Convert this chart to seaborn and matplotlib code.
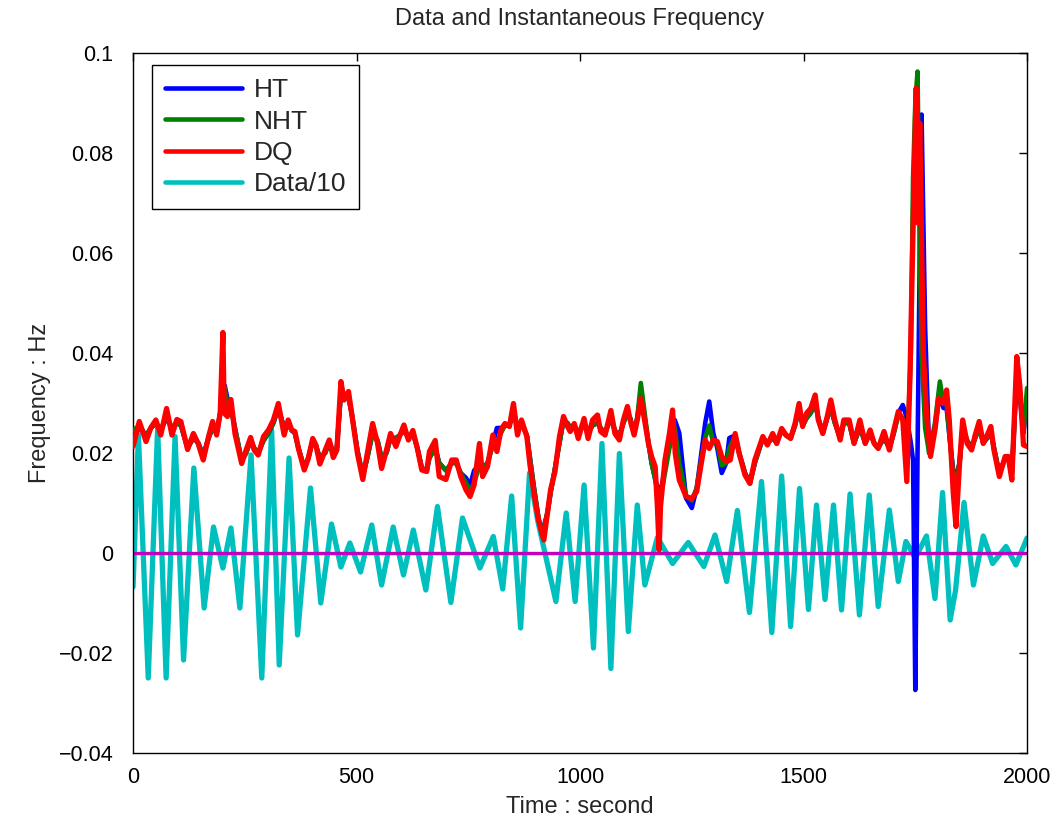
import numpy as np
import pandas as pd
import matplotlib
matplotlib.use("Agg")
import matplotlib.pyplot as plt
import seaborn as sns

# ---------------- data ----------------
# common time grid for HT and NHT (seconds)
FREQ_T = [0, 14, 29, 40, 51, 62, 75, 87, 98, 107, 122, 135, 146, 157, 169, 178, 187, 195, 205, 211,
          219, 228, 243, 253, 263, 271, 280, 292, 303, 314, 325, 338, 347, 355, 362, 370, 383, 392, 402, 409,
          418, 430, 439, 448, 456, 465, 472, 482, 489, 502, 514, 524, 536, 547, 556, 567, 576, 588, 596, 606,
          616, 626, 636, 646, 657, 663, 676, 685, 700, 713, 723, 733, 745, 754, 763, 775, 782, 793, 805, 814,
          823, 832, 842, 851, 860, 869, 881, 888, 897, 907, 915, 927, 934, 944, 954, 963, 972, 978, 987, 996,
          1009, 1018, 1028, 1039, 1046, 1056, 1069, 1078, 1088, 1097, 1106, 1112, 1121, 1128, 1136, 1143, 1153, 1160, 1170, 1180,
          1190, 1200, 1212, 1222, 1237, 1250, 1261, 1270, 1280, 1289, 1298, 1307, 1317, 1327, 1334, 1347, 1356, 1369, 1380, 1391,
          1409, 1419, 1431, 1440, 1451, 1461, 1471, 1481, 1490, 1498, 1507, 1516, 1526, 1533, 1543, 1553, 1561, 1570, 1582, 1590,
          1602, 1613, 1626, 1638, 1649, 1658, 1667, 1680, 1692, 1702, 1712, 1722, 1731, 1740, 1745, 1750, 1755, 1760, 1764, 1772,
          1781, 1794, 1805, 1813, 1820, 1828, 1838, 1849, 1856, 1866, 1876, 1884, 1893, 1902, 1911, 1919, 1926, 1938, 1951, 1958,
          1966, 1977, 1984, 1992, 2000]

NHT_V = [0.0245, 0.0255, 0.0235, 0.025, 0.026, 0.0245, 0.0275, 0.025, 0.026, 0.0255, 0.021, 0.023, 0.022, 0.0195, 0.023, 0.025, 0.024, 0.028, 0.033, 0.030,
         0.029, 0.025, 0.0185, 0.020, 0.0225, 0.021, 0.020, 0.0225, 0.024, 0.026, 0.029, 0.025, 0.026, 0.0245, 0.024, 0.021, 0.017, 0.019, 0.0225, 0.0215,
         0.019, 0.020, 0.022, 0.020, 0.021, 0.032, 0.0315, 0.031, 0.028, 0.0205, 0.0155, 0.019, 0.024, 0.0225, 0.019, 0.020, 0.023, 0.023, 0.0235, 0.0245,
         0.023, 0.024, 0.021, 0.017, 0.0165, 0.019, 0.021, 0.018, 0.0165, 0.018, 0.018, 0.016, 0.014, 0.0125, 0.014, 0.0175, 0.017, 0.018, 0.0215, 0.022,
         0.024, 0.0255, 0.0255, 0.0285, 0.025, 0.026, 0.0235, 0.019, 0.013, 0.007, 0.0035, 0.008, 0.012, 0.017, 0.022, 0.0265, 0.026, 0.025, 0.0255, 0.024,
         0.026, 0.024, 0.0255, 0.026, 0.025, 0.024, 0.027, 0.0245, 0.0235, 0.026, 0.028, 0.027, 0.024, 0.027, 0.034, 0.029, 0.022, 0.018, 0.014, 0.011,
         0.016, 0.021, 0.025, 0.018, 0.0115, 0.0105, 0.013, 0.018, 0.023, 0.0255, 0.022, 0.022, 0.0175, 0.018, 0.021, 0.0235, 0.020, 0.016, 0.014, 0.018,
         0.023, 0.022, 0.023, 0.022, 0.0245, 0.0235, 0.023, 0.0255, 0.029, 0.0255, 0.027, 0.028, 0.030, 0.027, 0.024, 0.027, 0.029, 0.026, 0.023, 0.026,
         0.026, 0.022, 0.025, 0.022, 0.024, 0.022, 0.021, 0.023, 0.021, 0.024, 0.0275, 0.027, 0.018, 0.040, 0.075, 0.090, 0.0963, 0.060, 0.040, 0.025,
         0.020, 0.026, 0.0343, 0.030, 0.030, 0.022, 0.013, 0.018, 0.025, 0.0225, 0.021, 0.023, 0.025, 0.022, 0.023, 0.024, 0.021, 0.016, 0.019, 0.019,
         0.016, 0.036, 0.032, 0.024, 0.033]

HT_V = [0.0235, 0.025, 0.0235, 0.025, 0.026, 0.0245, 0.027, 0.025, 0.026, 0.0255, 0.021, 0.023, 0.022, 0.0195, 0.023, 0.025, 0.024, 0.028, 0.0335, 0.031,
        0.029, 0.025, 0.0185, 0.020, 0.0225, 0.021, 0.020, 0.0225, 0.024, 0.026, 0.029, 0.025, 0.026, 0.0245, 0.024, 0.021, 0.017, 0.019, 0.0225, 0.0215,
        0.019, 0.020, 0.0225, 0.020, 0.021, 0.032, 0.0315, 0.031, 0.028, 0.0205, 0.0155, 0.019, 0.024, 0.0225, 0.019, 0.020, 0.023, 0.023, 0.0235, 0.0245,
        0.023, 0.024, 0.021, 0.017, 0.0165, 0.019, 0.021, 0.018, 0.0165, 0.018, 0.018, 0.016, 0.015, 0.0135, 0.0165, 0.0175, 0.017, 0.018, 0.022, 0.025,
        0.025, 0.0255, 0.0255, 0.0285, 0.025, 0.026, 0.0235, 0.019, 0.013, 0.007, 0.004, 0.008, 0.012, 0.017, 0.022, 0.0265, 0.026, 0.025, 0.0255, 0.024,
        0.026, 0.024, 0.0255, 0.026, 0.025, 0.024, 0.027, 0.0245, 0.0235, 0.026, 0.028, 0.027, 0.024, 0.027, 0.032, 0.028, 0.022, 0.018, 0.014, 0.012,
        0.017, 0.022, 0.0266, 0.024, 0.011, 0.009, 0.013, 0.019, 0.026, 0.0303, 0.024, 0.021, 0.016, 0.018, 0.023, 0.0235, 0.020, 0.016, 0.014, 0.018,
        0.023, 0.022, 0.023, 0.022, 0.0245, 0.0235, 0.023, 0.0255, 0.029, 0.0255, 0.027, 0.028, 0.030, 0.027, 0.024, 0.027, 0.029, 0.026, 0.023, 0.026,
        0.026, 0.022, 0.025, 0.022, 0.024, 0.022, 0.021, 0.023, 0.021, 0.024, 0.028, 0.0296, 0.027, 0.022, 0.0186, -0.0274, 0.020, 0.060, 0.0877, 0.045,
        0.020, 0.025, 0.032, 0.029, 0.029, 0.022, 0.014, 0.018, 0.025, 0.0225, 0.021, 0.023, 0.025, 0.022, 0.023, 0.024, 0.021, 0.016, 0.019, 0.019,
        0.016, 0.035, 0.031, 0.024, 0.031]

DQ_T = [0, 14, 29, 40, 51, 62, 75, 87, 98, 107, 122, 135, 146, 157, 169, 178, 187, 195, 201, 204,
        211, 219, 228, 243, 253, 263, 271, 280, 292, 303, 314, 325, 338, 347, 355, 362, 370, 383, 392, 402,
        409, 418, 430, 439, 448, 456, 465, 472, 482, 489, 502, 514, 524, 536, 547, 556, 567, 576, 588, 596,
        606, 616, 626, 636, 646, 657, 663, 676, 685, 700, 713, 723, 733, 745, 754, 763, 775, 782, 793, 805,
        814, 823, 832, 842, 851, 860, 869, 881, 888, 897, 907, 919, 927, 934, 944, 954, 963, 972, 978, 987,
        996, 1009, 1018, 1028, 1039, 1046, 1056, 1069, 1078, 1088, 1097, 1106, 1112, 1121, 1128, 1136, 1143, 1153, 1160, 1168,
        1173, 1177, 1180, 1190, 1200, 1207, 1213, 1222, 1237, 1250, 1261, 1270, 1280, 1289, 1298, 1307, 1317, 1327, 1336, 1347,
        1356, 1369, 1380, 1391, 1409, 1419, 1431, 1440, 1451, 1461, 1471, 1481, 1490, 1498, 1507, 1516, 1526, 1533, 1543, 1553,
        1561, 1570, 1582, 1590, 1602, 1613, 1626, 1638, 1649, 1658, 1667, 1680, 1692, 1702, 1712, 1722, 1731, 1738, 1746, 1752,
        1756, 1760, 1768, 1775, 1784, 1794, 1802, 1813, 1820, 1826, 1835, 1841, 1849, 1856, 1866, 1876, 1884, 1893, 1902, 1911,
        1919, 1926, 1938, 1951, 1958, 1966, 1977, 1984, 1992, 2000]

DQ_V = [0.0213, 0.0263, 0.0223, 0.0251, 0.0266, 0.0236, 0.0289, 0.0236, 0.0267, 0.0263, 0.0207, 0.0239, 0.0218, 0.0186, 0.0233, 0.0263, 0.0236, 0.028, 0.0441, 0.028,
        0.0273, 0.0307, 0.0239, 0.0179, 0.0206, 0.0231, 0.0206, 0.0196, 0.0233, 0.0246, 0.0266, 0.0299, 0.0236, 0.0266, 0.0246, 0.0243, 0.0209, 0.0166, 0.0189, 0.0229,
        0.0216, 0.0178, 0.0206, 0.0226, 0.0191, 0.0206, 0.0343, 0.0306, 0.0323, 0.028, 0.0199, 0.0147, 0.0199, 0.0259, 0.0219, 0.0169, 0.0206, 0.0239, 0.0213, 0.0233,
        0.0256, 0.0226, 0.0245, 0.0209, 0.0166, 0.0163, 0.0203, 0.0225, 0.0153, 0.0147, 0.0186, 0.0186, 0.0153, 0.0126, 0.0113, 0.0136, 0.0219, 0.0153, 0.0173, 0.0236,
        0.0203, 0.0246, 0.0259, 0.0253, 0.0299, 0.0236, 0.0266, 0.0233, 0.0176, 0.0119, 0.0066, 0.0026, 0.0079, 0.0126, 0.0163, 0.0233, 0.0273, 0.0253, 0.0243, 0.0259,
        0.0229, 0.0269, 0.0229, 0.0266, 0.0276, 0.0243, 0.0236, 0.0285, 0.0239, 0.0226, 0.0266, 0.0293, 0.0266, 0.0236, 0.0266, 0.0309, 0.0273, 0.0219, 0.0193, 0.0173,
        0.0093, 0.0006, 0.0093, 0.0186, 0.0239, 0.0286, 0.0199, 0.0146, 0.0113, 0.0109, 0.0123, 0.0173, 0.0226, 0.0209, 0.0226, 0.0223, 0.0193, 0.0183, 0.0186, 0.0239,
        0.0199, 0.0156, 0.0139, 0.0186, 0.0233, 0.0216, 0.0239, 0.0219, 0.0249, 0.0236, 0.0229, 0.0259, 0.0299, 0.0253, 0.028, 0.0289, 0.0316, 0.0266, 0.0239, 0.0273,
        0.0306, 0.0266, 0.0226, 0.0266, 0.0266, 0.0219, 0.0266, 0.0219, 0.0246, 0.0219, 0.0209, 0.0243, 0.0206, 0.0246, 0.0283, 0.0266, 0.0143, 0.035, 0.069, 0.093,
        0.066, 0.086, 0.040, 0.028, 0.0193, 0.0246, 0.0309, 0.0299, 0.0326, 0.0266, 0.0119, 0.0053, 0.0179, 0.0266, 0.0219, 0.0206, 0.0236, 0.0263, 0.0219, 0.0236,
        0.0253, 0.0206, 0.0153, 0.0193, 0.0193, 0.0146, 0.0393, 0.0333, 0.0216, 0.0213]

DATA_T = [0, 12, 34, 55, 74, 94, 113, 136, 159, 180, 201, 219, 239, 264, 288, 310, 327, 349, 368, 397,
          420, 444, 465, 485, 509, 534, 556, 582, 605, 627, 655, 681, 711, 737, 776, 806, 827, 847, 867, 887,
          905, 920, 946, 969, 989, 1009, 1030, 1049, 1069, 1088, 1108, 1128, 1145, 1173, 1207, 1242, 1277, 1302, 1328, 1352,
          1379, 1406, 1429, 1451, 1471, 1491, 1511, 1529, 1548, 1567, 1585, 1604, 1625, 1647, 1667, 1692, 1712, 1729, 1750, 1775,
          1794, 1811, 1828, 1840, 1859, 1880, 1902, 1923, 1953, 1975, 2000]

DATA_V = [-0.0068, 0.0236, -0.025, 0.025, -0.025, 0.0233, -0.0214, 0.017, -0.011, 0.0052, -0.003, 0.005, -0.011, 0.0196, -0.025, 0.0246, -0.0224, 0.019, -0.0164, 0.013,
          -0.010, 0.0058, -0.0028, 0.002, -0.0038, 0.0056, -0.0064, 0.0052, -0.0044, 0.0046, -0.0074, 0.0093, -0.0099, 0.007, -0.003, 0.0033, -0.0072, 0.0114, -0.015, 0.016,
          0.0066, 0.0006, -0.0097, 0.008, -0.0097, 0.0136, -0.019, 0.0219, -0.0231, 0.0199, -0.0157, 0.0096, -0.0064, 0.0031, -0.0021, 0.0021, -0.0027, 0.0036, -0.0057, 0.0085,
          -0.0119, 0.0143, -0.0159, 0.0154, -0.0147, 0.0129, -0.0113, 0.0096, -0.0093, 0.0096, -0.0114, 0.0118, -0.0124, 0.0116, -0.0107, 0.0086, -0.0057, 0.0023, -0.001, 0.0034,
          -0.0091, 0.0121, -0.0134, -0.0075, 0.0101, -0.0064, 0.0034, -0.0021, 0.0013, -0.0024, 0.003]

ZERO_T = [0, 2000]
ZERO_V = [0.0, 0.0]

X_TICKS = [0, 500, 1000, 1500, 2000]
Y_TICKS = [-0.04, -0.02, 0, 0.02, 0.04, 0.06, 0.08, 0.1]
Y_TICK_LABELS = ["\u22120.04", "\u22120.02", "0", "0.02", "0.04", "0.06", "0.08", "0.1"]

# ---------------- plot ----------------
sns.set_theme(style="white")
plt.rcParams["font.family"] = ["Liberation Sans", "DejaVu Sans"]

fig = plt.figure(figsize=(10.61, 8.26), dpi=100)
ax = fig.add_axes([0.1254, 0.0884, 0.8426, 0.8474])

style = dict(estimator=None, sort=False, solid_joinstyle="round", solid_capstyle="round")
sns.lineplot(x=DATA_T, y=DATA_V, ax=ax, color=(0, 0.75, 0.75), lw=3.8, zorder=2, **style)
sns.lineplot(x=ZERO_T, y=ZERO_V, ax=ax, color=(0.75, 0, 0.75), lw=2.4, zorder=2.1, **style)
sns.lineplot(x=FREQ_T, y=HT_V, ax=ax, color=(0, 0, 1), lw=3.3, zorder=3, **style)
sns.lineplot(x=FREQ_T, y=NHT_V, ax=ax, color=(0, 0.5, 0), lw=3.3, zorder=3.1, **style)
sns.lineplot(x=DQ_T, y=DQ_V, ax=ax, color=(1, 0, 0), lw=3.8, zorder=3.2, **style)

lines = ax.get_lines()
handles = [lines[2], lines[3], lines[4], lines[0]]
leg = ax.legend(handles, ["HT", "NHT", "DQ", "Data/10"], loc="upper left",
                bbox_to_anchor=(0.021, 0.983), fontsize=19, frameon=True, fancybox=False,
                edgecolor="black", framealpha=1, handlelength=2.9, borderpad=0.5,
                labelspacing=0.28, handletextpad=0.45, borderaxespad=0)
leg.get_frame().set_linewidth(1.0)
for h in leg.get_lines():
    h.set_linewidth(3.3)

ax.set_xlim(0, 2000)
ax.set_ylim(-0.04, 0.1)
ax.set_xticks(X_TICKS)
ax.set_xticklabels([str(v) for v in X_TICKS])
ax.set_yticks(Y_TICKS)
ax.set_yticklabels(Y_TICK_LABELS)
ax.tick_params(direction="in", length=6, width=1, top=True, right=True,
               labelsize=15.5, colors="black")
ax.tick_params(axis="x", pad=10)
ax.tick_params(axis="y", pad=14)
for s in ax.spines.values():
    s.set_visible(True)
    s.set_color("black")
    s.set_linewidth(1.0)

ax.set_xlabel("Time : second", fontsize=17, labelpad=6)
ax.set_ylabel("Frequency : Hz", fontsize=17, labelpad=6)
ax.set_title("Data and Instantaneous Frequency", fontsize=17, pad=20)

fig.savefig("out.png", dpi=100)
